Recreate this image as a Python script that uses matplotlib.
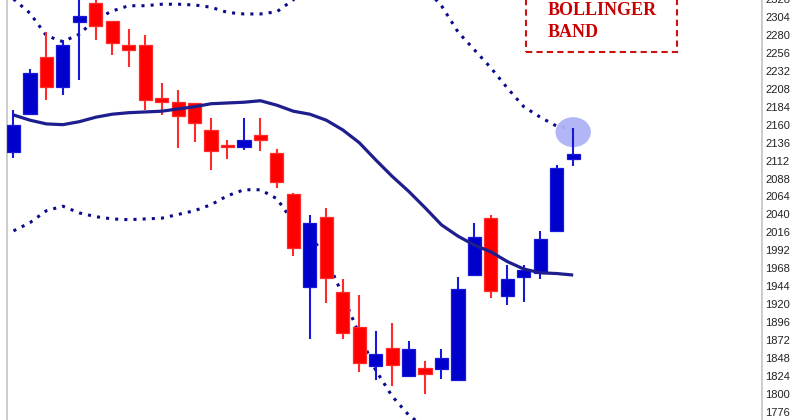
import numpy as np
import matplotlib.pyplot as plt
from matplotlib.patches import Rectangle, Ellipse

# OHLC, one entry per session
opens = [2124, 2174, 2250, 2210, 2297, 2323, 2299, 2267, 2267, 2196, 2190, 2189,
         2153, 2133, 2130, 2146, 2122, 2067, 1943, 2037, 1936, 1890, 1837, 1862,
         1824, 1835, 1833, 1819, 1959, 2035, 1931, 1956, 1962, 2018, 2114]
highs = [2180, 2235, 2284, 2273, 2345, 2340, 2299, 2288, 2280, 2216, 2206, 2189,
         2169, 2140, 2169, 2169, 2128, 2069, 2039, 2049, 1954, 1932, 1884, 1895,
         1871, 1844, 1860, 1956, 2029, 2039, 1973, 1973, 2018, 2106, 2156]
lows = [2116, 2174, 2193, 2200, 2220, 2273, 2253, 2237, 2180, 2173, 2129, 2137,
        2100, 2114, 2126, 2125, 2075, 1985, 1874, 1922, 1874, 1829, 1819, 1811,
        1824, 1800, 1820, 1819, 1959, 1928, 1919, 1923, 1954, 2017, 2105]
closes = [2160, 2229, 2210, 2267, 2305, 2292, 2269, 2260, 2193, 2190, 2172, 2162,
          2125, 2130, 2140, 2140, 2083, 1995, 2029, 1955, 1882, 1841, 1854, 1839,
          1860, 1827, 1848, 1940, 2010, 1938, 1954, 1966, 2007, 2102, 2121]

# bollinger bands (20 sma + upper/lower)
middle = [2173, 2166, 2161, 2160, 2164, 2170, 2174, 2176, 2177, 2178, 2181, 2184,
          2188, 2189, 2190, 2192, 2186, 2178, 2174, 2166, 2153, 2136, 2113, 2091,
          2071, 2049, 2026, 2011, 1999, 1990, 1977, 1967, 1962, 1961, 1959]
upper = [2328, 2309, 2279, 2271, 2281, 2301, 2312, 2319, 2319, 2321, 2321, 2320,
         2317, 2310, 2308, 2308, 2311, 2327, 2347, 2364, 2374, 2378, 2378, 2371,
         2359, 2343, 2319, 2284, 2260, 2236, 2209, 2184, 2170, 2158, 2154]
lower = [2018, 2029, 2045, 2051, 2042, 2037, 2034, 2033, 2034, 2035, 2040, 2045,
         2053, 2065, 2073, 2073, 2061, 2030, 2013, 1981, 1932, 1880, 1832, 1797,
         1772, 1755, 1733, 1738, 1738, 1744, 1744, 1748, 1750, 1753, 1755]

yticks = list(range(1776, 2352, 24))

fig = plt.figure(figsize=(8, 4.2), dpi=100)
ax = fig.add_axes([6.5/800, -0.9/420, 755.5/800, 423.4/420])

x = np.arange(len(opens))

# highlight circle on the last candle
ax.add_patch(Ellipse((34, 2150), 2.15, 40, facecolor='#aeb2f7', edgecolor='none',
                     alpha=0.95, zorder=3))

ax.plot(x, upper, color='#0a0a8c', lw=2.2, ls=(0, (1, 2)), dash_capstyle='butt', zorder=2)
ax.plot(x, lower, color='#0a0a8c', lw=2.2, ls=(0, (1, 2)), dash_capstyle='butt', zorder=2)
ax.plot(x, middle, color='#1e1e8e', lw=2.3, solid_capstyle='butt', zorder=5)

for i in x:
    up = closes[i] > opens[i]
    face = '#0000cc' if up else '#ff0000'
    edge = '#1818d8' if up else '#ff2a2a'
    ax.plot([i, i], [lows[i], highs[i]], color=edge, lw=1.5, solid_capstyle='butt', zorder=4)
    bot = min(opens[i], closes[i])
    h = abs(closes[i] - opens[i])
    ax.add_patch(Rectangle((i - 0.4, bot), 0.8, h, facecolor=face, edgecolor=edge,
                           lw=0.9, zorder=4))

ax.set_xlim(-0.425, 45.47)
ax.set_ylim(1764, 2330)
ax.set_yticks(yticks)
ax.yaxis.tick_right()
ax.tick_params(axis='y', length=0, pad=2.2, labelsize=8, labelcolor='#222222')
for lab in ax.get_yticklabels():
    lab.set_fontfamily('Liberation Sans')
ax.set_xticks([])
for s in ['top', 'bottom']:
    ax.spines[s].set_visible(False)
for s in ['left', 'right']:
    ax.spines[s].set_color('#c4c4c4')
    ax.spines[s].set_linewidth(1.2)

# the dashed caption box in the top right
fig.patches.append(Rectangle((526/800, (420-52)/420), 151/800, 0.2, transform=fig.transFigure,
                             fill=False, edgecolor='#cc1111', lw=1.5, ls=(0, (3, 2))))
fig.text(548/800, (420-15)/420, 'BOLLINGER', family='Liberation Serif', weight='bold',
         fontsize=13, color='#c80000', va='baseline')
fig.text(548/800, (420-37)/420, 'BAND', family='Liberation Serif', weight='bold',
         fontsize=13, color='#c80000', va='baseline')

fig.savefig('out.png', dpi=100)
